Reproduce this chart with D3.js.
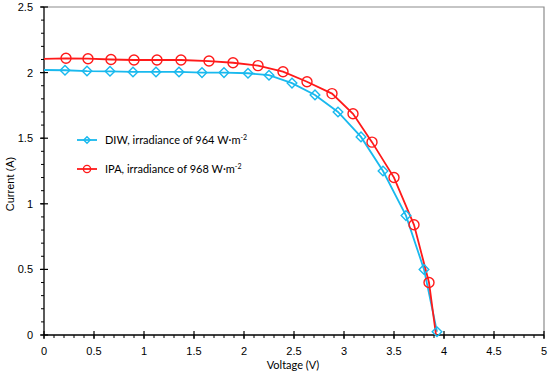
<!DOCTYPE html>
<html>
<head>
<meta charset="utf-8">
<script src="https://cdn.jsdelivr.net/npm/d3@7"></script>
<style>
  body { margin: 0; background: #fff; }
  svg { display: block; }
</style>
</head>
<body>
<div id="chart"></div>
<script>
// voltage (V) and current (A)
var diwV = [0, 0.21, 0.43, 0.66, 0.89, 1.12, 1.35, 1.58, 1.80, 2.04, 2.25, 2.48, 2.71, 2.94, 3.17, 3.39, 3.62, 3.80, 3.93];
var diwI = [2.02, 2.018, 2.012, 2.01, 2.005, 2.005, 2.005, 2.0, 2.0, 1.995, 1.98, 1.92, 1.83, 1.70, 1.51, 1.25, 0.91, 0.50, 0.025];
var ipaV = [0, 0.22, 0.44, 0.67, 0.90, 1.13, 1.37, 1.65, 1.89, 2.14, 2.39, 2.63, 2.88, 3.09, 3.28, 3.50, 3.70, 3.85, 3.92];
var ipaI = [2.105, 2.109, 2.106, 2.10, 2.096, 2.096, 2.096, 2.088, 2.075, 2.053, 2.007, 1.93, 1.84, 1.686, 1.47, 1.20, 0.84, 0.40, 0];
var xTicks = [0, 0.5, 1, 1.5, 2, 2.5, 3, 3.5, 4, 4.5, 5];
var yTicks = [0, 0.5, 1, 1.5, 2, 2.5];

var blue = '#19b9ee', red = '#ff1a1a';

var width = 550, height = 376;
var svg = d3.select('#chart').append('svg')
  .attr('width', width)
  .attr('height', height);

var x = d3.scaleLinear().domain([0, 5]).range([44, 544]);
var y = d3.scaleLinear().domain([0, 2.5]).range([335, 7]);

// grey frame top / right
svg.append('path')
  .attr('d', 'M' + x(0) + ',' + y(2.5) + 'H' + x(5) + 'V' + y(0))
  .attr('fill', 'none').attr('stroke', '#8c8c8c').attr('stroke-width', 1.2);

var minor = d3.range(0, 51).map(function(d){ return d / 10; });
var minorY = d3.range(0, 26).map(function(d){ return d / 10; });

// x axis
var gx = svg.append('g');
gx.append('line').attr('x1', x(0)).attr('x2', x(5)).attr('y1', y(0)).attr('y2', y(0))
  .attr('stroke', '#000').attr('stroke-width', 1.3);
gx.selectAll('.mn').data(minor).enter().append('line')
  .attr('x1', function(d){ return x(d); }).attr('x2', function(d){ return x(d); })
  .attr('y1', y(0)).attr('y2', y(0) + 3)
  .attr('stroke', '#000').attr('stroke-width', 1);
gx.selectAll('.mj').data(xTicks).enter().append('line')
  .attr('x1', function(d){ return x(d); }).attr('x2', function(d){ return x(d); })
  .attr('y1', y(0) - 4).attr('y2', y(0) + 4)
  .attr('stroke', '#000').attr('stroke-width', 1.2);
gx.selectAll('text').data(xTicks).enter().append('text')
  .attr('x', function(d){ return x(d); }).attr('y', 355)
  .attr('text-anchor', 'middle')
  .style('font', '11px "Liberation Sans", Arial, sans-serif')
  .text(function(d){ return d; });

// y axis
var gy = svg.append('g');
gy.append('line').attr('x1', x(0)).attr('x2', x(0)).attr('y1', y(0)).attr('y2', y(2.5))
  .attr('stroke', '#000').attr('stroke-width', 1.3);
gy.selectAll('.mn').data(minorY).enter().append('line')
  .attr('x1', x(0) - 3).attr('x2', x(0))
  .attr('y1', function(d){ return y(d); }).attr('y2', function(d){ return y(d); })
  .attr('stroke', '#000').attr('stroke-width', 1);
gy.selectAll('.mj').data(yTicks).enter().append('line')
  .attr('x1', x(0) - 4).attr('x2', x(0) + 4)
  .attr('y1', function(d){ return y(d); }).attr('y2', function(d){ return y(d); })
  .attr('stroke', '#000').attr('stroke-width', 1.2);
gy.selectAll('text').data(yTicks).enter().append('text')
  .attr('x', 33).attr('y', function(d){ return y(d) + 4; })
  .attr('text-anchor', 'end')
  .style('font', '11px "Liberation Sans", Arial, sans-serif')
  .text(function(d){ return d; });

// axis titles
svg.append('text').attr('x', 293).attr('y', 369).attr('text-anchor', 'middle')
  .style('font', '11px Lato, sans-serif').text('Voltage (V)');
svg.append('text').attr('transform', 'translate(14,184) rotate(-90)').attr('text-anchor', 'middle')
  .style('font', '11px "Liberation Sans", Arial, sans-serif').text('Current (A)');

var line = d3.line()
  .x(function(d){ return x(d[0]); })
  .y(function(d){ return y(d[1]); });

var diw = d3.zip(diwV, diwI), ipa = d3.zip(ipaV, ipaI);

function diamond(sel, s) {
  sel.attr('d', 'M0,' + (-s) + 'L' + s + ',0L0,' + s + 'L' + (-s) + ',0Z')
    .attr('fill', 'none').attr('stroke', blue).attr('stroke-width', 1.4);
}
function circle(sel) {
  sel.attr('r', 5).attr('fill', 'none').attr('stroke', red).attr('stroke-width', 1.4);
}

svg.append('path').datum(diw).attr('d', line)
  .attr('fill', 'none').attr('stroke', blue).attr('stroke-width', 1.8);
svg.append('path').datum(ipa).attr('d', line)
  .attr('fill', 'none').attr('stroke', red).attr('stroke-width', 1.8);

// markers: skip the V=0 start point, and the IPA end point at I=0
svg.selectAll('.dm').data(diw.slice(1)).enter().append('path')
  .attr('transform', function(d){ return 'translate(' + x(d[0]) + ',' + y(d[1]) + ')'; })
  .call(diamond, 4.8);
svg.selectAll('.ci').data(ipa.slice(1, -1)).enter().append('circle')
  .attr('cx', function(d){ return x(d[0]); })
  .attr('cy', function(d){ return y(d[1]); })
  .call(circle);

// legend
var legend = [
  { name: 'DIW, irradiance of 964 W\u00b7m', color: blue, y: 140, mark: 'd' },
  { name: 'IPA, irradiance of 968 W\u00b7m', color: red, y: 169, mark: 'c' }
];
legend.forEach(function(l){
  svg.append('line').attr('x1', 77).attr('x2', 97).attr('y1', l.y).attr('y2', l.y)
    .attr('stroke', l.color).attr('stroke-width', 1.8);
  if (l.mark === 'd') {
    svg.append('path').attr('transform', 'translate(87,' + l.y + ')').call(diamond, 3.2);
  } else {
    svg.append('circle').attr('cx', 87).attr('cy', l.y).call(circle).attr('r', 3.6);
  }
  var t = svg.append('text').attr('x', 105).attr('y', l.y + 4)
    .style('font', '11px Lato, sans-serif');
  t.append('tspan').text(l.name);
  t.append('tspan').attr('dy', -4).style('font-size', '7px').text('-2');
});
</script>
</body>
</html>
